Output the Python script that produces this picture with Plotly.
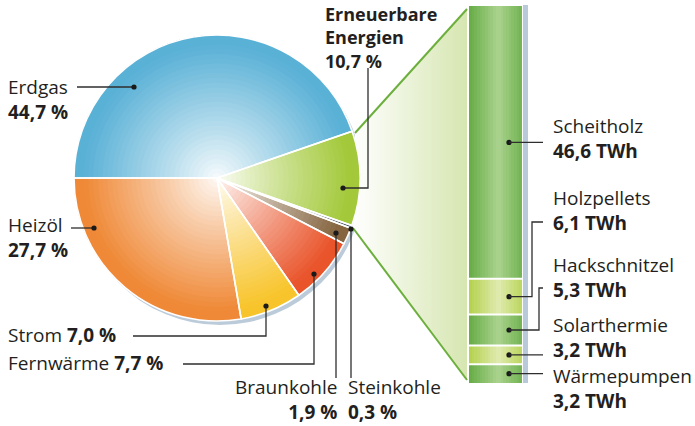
import plotly.graph_objects as go

W, H = 695, 426

# ---------------- data ----------------
categories = ["Erdgas", "Erneuerbare Energien", "Steinkohle", "Braunkohle",
              "Fernwärme", "Strom", "Heizöl"]
shares = [44.7, 10.7, 0.3, 1.9, 7.7, 7.0, 27.7]
pie_colors = ["#5ab1d6", "#a3c93a", "#4f5965", "#85643f",
              "#e9542a", "#f8c42b", "#ef8937"]

renew_labels = ["Wärmepumpen", "Solarthermie", "Hackschnitzel",
                "Holzpellets", "Scheitholz"]
renew_twh = [3.2, 3.2, 5.3, 6.1, 46.6]
renew_dark = [True, False, True, False, True]


def fmt(v):
    return f"{v:.1f}".replace(".", ",")


def hex2rgb(c):
    c = c.lstrip("#")
    return [int(c[i:i + 2], 16) for i in (0, 2, 4)]


def mix(c1, c2, t):
    a, b = hex2rgb(c1), hex2rgb(c2)
    return "rgb({},{},{})".format(*[round(a[i] + (b[i] - a[i]) * t) for i in range(3)])


fig = go.Figure()

# ---------------- geometry (pixels) ----------------
PIE_L, PIE_R, PIE_T, PIE_B = 74, 360, 35, 321
BAR_L, BAR_R, BAR_T, BAR_B = 469, 522, 6, 383
pie_domain = dict(x=[PIE_L / W, PIE_R / W], y=[1 - PIE_B / H, 1 - PIE_T / H])

# connector trapezoid with horizontal gradient
fig.add_trace(go.Scatter(
    x=[355, 467, 467, 353, 355], y=[133, 9, 380, 228, 133],
    xaxis="x2", yaxis="y2", mode="lines", line=dict(width=0),
    fill="toself",
    fillgradient=dict(type="horizontal",
                      colorscale=[[0, "rgba(255,255,255,1)"], [1, "#d6e6b1"]]),
    hoverinfo="skip", showlegend=False))

# ---------------- pie (radial gradient by layered rings) ----------------
N = 30
for k in range(N):
    t = (k + 0.5) / N
    s = 0.04 + 0.96 * min(1.0, t / 0.93) ** 0.9
    cols = [mix("#ffffff", c, s) for c in pie_colors]
    fig.add_trace(go.Pie(
        values=shares, labels=categories, hole=k / N, sort=False,
        direction="clockwise", rotation=-90,
        marker=dict(colors=cols, line=dict(width=0)),
        textinfo="none", hoverinfo="skip", showlegend=False,
        domain=pie_domain))
# white separators
fig.add_trace(go.Pie(
    values=shares, labels=categories, sort=False,
    direction="clockwise", rotation=-90,
    marker=dict(colors=["rgba(0,0,0,0)"] * len(shares),
                line=dict(color="white", width=1.6)),
    textinfo="none", hoverinfo="skip", showlegend=False, domain=pie_domain))

# ---------------- stacked bar (renewables) ----------------
NC = 20
xs = list(range(NC))
for lab, v, dark in zip(renew_labels, renew_twh, renew_dark):
    if dark:
        edge, light = "#66ac45", "#abd38f"
    else:
        edge, light = "#b3d14c", "#e0ebb0"
    cols = []
    for j in xs:
        u = (j + 0.5) / NC
        a = max(0.0, 1 - abs(u - 0.55) / 0.55)
        cols.append(mix(edge, light, a))
    fig.add_trace(go.Bar(
        x=xs, y=[v] * NC, marker=dict(color=cols, line=dict(width=0)),
        width=1.0, hoverinfo="skip", showlegend=False, name=lab))

total = sum(renew_twh)
shapes = []

# pie shadow
shapes.append(dict(type="circle", xref="x2", yref="y2", layer="below",
                   x0=PIE_L + 3, x1=PIE_R + 3, y0=PIE_T + 4, y1=PIE_B + 4,
                   fillcolor="#bccbda", line=dict(width=0)))
# bar shadow strip
shapes.append(dict(type="rect", xref="x2", yref="y2", layer="below",
                   x0=523, x1=528, y0=5, y1=BAR_B,
                   fillcolor="#b8c9d9", line=dict(width=0)))

# white separators in bar
cum = 0
for v in renew_twh[:-1]:
    cum += v
    shapes.append(dict(type="line", xref="x", yref="y", layer="above",
                       x0=-0.5, x1=NC - 0.5, y0=cum, y1=cum,
                       line=dict(color="white", width=2)))

# green connector lines
GREEN = "#6caf3c"
shapes.append(dict(type="line", xref="x2", yref="y2", x0=355, y0=133, x1=467, y1=9,
                   line=dict(color=GREEN, width=2)))
shapes.append(dict(type="line", xref="x2", yref="y2", x0=353, y0=228, x1=467, y1=380,
                   line=dict(color=GREEN, width=2)))

LC = "#2e2e2e"


def path(pts):
    d = "M " + " L ".join(f"{x},{y}" for x, y in pts)
    shapes.append(dict(type="path", xref="x2", yref="y2", path=d,
                       line=dict(color=LC, width=1.3)))


def dot(x, y, r=2.6):
    shapes.append(dict(type="circle", xref="x2", yref="y2",
                       x0=x - r, x1=x + r, y0=y - r, y1=y + r,
                       fillcolor="#1a1a1a", line=dict(width=0)))


# pie leader lines
path([(77, 87), (134, 87)]); dot(134, 87)                      # Erdgas
path([(71, 228), (94, 228)]); dot(94, 228)                     # Heizöl
path([(133, 336), (266, 336), (266, 306)]); dot(266, 306)      # Strom
path([(183, 364), (314, 364), (314, 274)]); dot(314, 274)      # Fernwärme
path([(336, 233), (336, 378)]); dot(336, 233)                  # Braunkohle
path([(351, 229), (351, 378)]); dot(351, 229)                  # Steinkohle
path([(368, 68), (368, 188), (343, 188)]); dot(343, 188)       # Erneuerbare


# bar leader lines (dot at the middle of each segment)
def bar_py(val):
    return BAR_B - val / total * (BAR_B - BAR_T)


mids = []
cum = 0
for v in renew_twh:
    mids.append(bar_py(cum + v / 2))
    cum += v
lab_y = {"Scheitholz": 149.5, "Holzpellets": 222, "Hackschnitzel": 288,
         "Solarthermie": 355, "Wärmepumpen": 375}
elbow_x = {"Holzpellets": 532, "Hackschnitzel": 539}
for lab, my in zip(renew_labels, mids):
    dot(509, my)
    if lab in elbow_x:
        ex = elbow_x[lab]
        path([(509, my), (ex, my), (ex, lab_y[lab]), (543, lab_y[lab])])
    else:
        path([(509, my), (543, my)])

# ---------------- annotations ----------------
FONT = "Open Sans"
TC = "#231f20"
FS = 19
ann = []


def text(x, y, s, anchor="left", size=FS):
    ann.append(dict(xref="x2", yref="y2", x=x, y=y, text=s, showarrow=False,
                    xanchor=anchor, yanchor="middle", align=anchor,
                    borderpad=0, borderwidth=0,
                    font=dict(family=FONT, size=size, color=TC)))


pct = {c: fmt(v) + " %" for c, v in zip(categories, shares)}
text(8, 99, f"Erdgas<br><b>{pct['Erdgas']}</b>")
text(8, 237, f"Heizöl<br><b>{pct['Heizöl']}</b>")
text(8, 335, f"Strom <b>{pct['Strom']}</b>")
text(8, 363, f"Fernwärme <b>{pct['Fernwärme']}</b>")
text(337, 399, f"Braunkohle<br><b>{pct['Braunkohle']}</b>", anchor="right")
text(348, 399, f"Steinkohle<br><b>{pct['Steinkohle']}</b>")
text(325, 37, f"<b>Erneuerbare<br>Energien<br>{pct['Erneuerbare Energien']}</b>",
     size=18)

rlab_y = {"Scheitholz": 138, "Holzpellets": 210, "Hackschnitzel": 277,
          "Solarthermie": 337, "Wärmepumpen": 388}
for lab, v in zip(renew_labels, renew_twh):
    text(553, rlab_y[lab], f"{lab}<br><b>{fmt(v)} TWh</b>")

fig.update_layout(
    width=W, height=H, margin=dict(l=0, r=0, t=0, b=0),
    paper_bgcolor="white", plot_bgcolor="rgba(0,0,0,0)",
    barmode="stack", bargap=0,
    xaxis=dict(domain=[BAR_L / W, BAR_R / W], range=[-0.5, NC - 0.5],
               visible=False, fixedrange=True),
    yaxis=dict(domain=[1 - BAR_B / H, 1 - BAR_T / H], range=[0, total],
               visible=False, fixedrange=True),
    xaxis2=dict(domain=[0, 1], range=[0, W], visible=False, anchor="y2",
                fixedrange=True),
    yaxis2=dict(domain=[0, 1], range=[H, 0], visible=False, anchor="x2",
                fixedrange=True),
    shapes=shapes, annotations=ann, showlegend=False)

fig.write_html("out.html", config={"displayModeBar": False},
               post_script="document.body.style.margin='0';document.body.style.overflow='hidden';")
